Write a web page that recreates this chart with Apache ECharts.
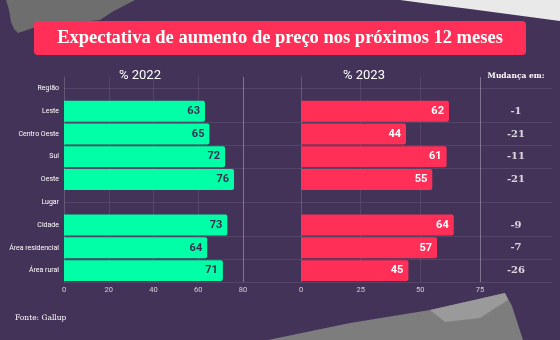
<!DOCTYPE html>
<html>
<head>
<meta charset="utf-8">
<script src="https://cdn.jsdelivr.net/npm/echarts@6/dist/echarts.min.js"></script>
<style>
  html, body { margin: 0; padding: 0; background: #433358; }
  #chart { width: 560px; height: 340px; }
</style>
</head>
<body>
<div id="chart"></div>
<script>
// Row labels (group headers "Região" and "Lugar" carry no values)
const categories = ['Região', 'Leste', 'Centro Oeste', 'Sul', 'Oeste', 'Lugar', 'Cidade', 'Área residencial', 'Área rural'];
const values2022 = [null, 63, 65, 72, 76, null, 73, 64, 71];
const values2023 = [null, 62, 44, 61, 55, null, 64, 57, 45];
const changes = [null, -1, -21, -11, -21, null, -9, -7, -26];
const ticks2022 = [0, 20, 40, 60, 80];
const ticks2023 = [0, 25, 50, 75];
const groupHeaders = ['Região', 'Lugar'];

const BG = '#433358';
const GREEN = '#00ffa6';
const RED = '#ff2f57';
const FAINT = 'rgba(255,255,255,0.09)';
const BRIGHT = 'rgba(255,255,255,0.32)';
const SLAB = '"DejaVu Serif", serif';
const TITLE_FONT = '"Liberation Serif", "DejaVu Serif", serif';
const SANS = 'Roboto, "Noto Sans", sans-serif';

const chart = echarts.init(document.getElementById('chart'), null, { renderer: 'canvas' });

const valueAxis = (ticks, gridIndex) => ({
  type: 'value',
  gridIndex,
  min: ticks[0],
  max: ticks[ticks.length - 1],
  interval: ticks[1] - ticks[0],
  axisLine: { show: false },
  axisTick: { show: false },
  axisLabel: { color: 'rgba(255,255,255,0.75)', fontSize: 7.5, fontFamily: SANS, margin: 4 },
  splitLine: {
    show: true,
    lineStyle: { color: ['transparent'].concat(ticks.slice(1, -1).map(() => FAINT), [BRIGHT]), width: 1 }
  }
});

const catAxis = (gridIndex, showLabels, showLine) => ({
  type: 'category',
  gridIndex,
  data: categories,
  inverse: true,
  axisTick: { show: false },
  axisLine: { show: showLine, lineStyle: { color: 'rgba(255,255,255,0.18)' } },
  axisLabel: {
    show: showLabels,
    color: '#ffffff',
    fontSize: 7,
    fontFamily: SANS,
    margin: 5
  },
  splitLine: { show: false }
});

const barSeries = (name, values, color, labelColor, xi) => ({
  name,
  type: 'bar',
  xAxisIndex: xi,
  yAxisIndex: xi,
  data: values,
  barCategoryGap: '8%',
  itemStyle: { color, borderRadius: [0, 2, 2, 0] },
  label: {
    show: true,
    position: 'insideRight',
    distance: 5,
    color: labelColor,
    fontFamily: SANS,
    fontWeight: 'bold',
    fontSize: 11
  },
  z: 3
});

const option = {
  backgroundColor: BG,
  animation: false,
  graphic: [
    // torn paper scraps
    { type: 'polygon', z: 0, shape: { points: [[6, 0], [135, 0], [112, 12], [100, 20], [60, 24], [36, 27], [18, 33], [14, 29], [11, 22], [9, 10]] }, style: { fill: '#6e6e6e' } },
    { type: 'polygon', z: 0, shape: { points: [[400, 0], [560, 0], [560, 21], [530, 17], [500, 13], [470, 9], [430, 4]] }, style: { fill: '#e9e9e9' } },
    { type: 'polygon', z: 0, shape: { points: [[268, 340], [350, 323], [430, 310], [505, 293], [512, 306], [523, 340]] }, style: { fill: '#7d7d7d' } },
    { type: 'polygon', z: 0, shape: { points: [[430, 310], [470, 301], [505, 293], [508, 300], [480, 318], [445, 322]] }, style: { fill: '#9a9a9a' } },
    // title banner
    { type: 'rect', z: 5, shape: { x: 34, y: 21, width: 492, height: 34, r: 4 }, style: { fill: RED } },
    { type: 'text', z: 6, x: 280, y: 38, style: { text: 'Expectativa de aumento de preço nos próximos 12 meses', fill: '#ffffff', font: 'bold 18.5px ' + TITLE_FONT, textAlign: 'center', textVerticalAlign: 'middle' } },
    // column headers
    { type: 'text', z: 6, x: 140, y: 76, style: { text: '% 2022', fill: '#ffffff', font: '13px ' + SANS, textAlign: 'center', textVerticalAlign: 'middle' } },
    { type: 'text', z: 6, x: 364, y: 76, style: { text: '% 2023', fill: '#ffffff', font: '13px ' + SANS, textAlign: 'center', textVerticalAlign: 'middle' } },
    { type: 'text', z: 6, x: 516, y: 76, style: { text: 'Mudança em:', fill: '#ffffff', font: 'bold 7.5px ' + SLAB, textAlign: 'center', textVerticalAlign: 'middle' } },
    // source
    { type: 'text', z: 6, x: 15, y: 318, style: { text: 'Fonte: Gallup', fill: '#ffffff', font: '7.5px ' + SLAB, textVerticalAlign: 'middle' } }
  ],
  grid: [
    { left: 64, right: 8, top: 77, height: 205 },   // row rules across the table
    { left: 64, width: 179, top: 77, height: 205 }, // 2022
    { left: 301, width: 179, top: 77, height: 205 }, // 2023
    { left: 480, width: 72, top: 77, height: 205 }   // change column
  ],
  xAxis: [
    { type: 'value', gridIndex: 0, min: 0, max: 1, show: false },
    valueAxis(ticks2022, 1),
    valueAxis(ticks2023, 2),
    { type: 'value', gridIndex: 3, min: 0, max: 1, show: false }
  ],
  yAxis: [
    Object.assign(catAxis(0, false, false), {
      splitLine: {
        show: true,
        interval: (index) => [2, 3, 4, 7, 8].includes(index),
        lineStyle: { color: FAINT }
      }
    }),
    catAxis(1, true, true),
    catAxis(2, false, true),
    Object.assign(catAxis(3, false, false), { show: false })
  ],
  series: [
    {
      type: 'scatter',
      xAxisIndex: 0,
      yAxisIndex: 0,
      symbolSize: 0,
      data: [],
      silent: true,
      markLine: {
        silent: true,
        symbol: 'none',
        label: { show: false },
        lineStyle: { color: FAINT, type: 'solid', width: 1 },
        data: groupHeaders.map((g) => ({ yAxis: g }))
      }
    },
    barSeries('% 2022', values2022, GREEN, '#3b2d52', 1),
    barSeries('% 2023', values2023, RED, '#ffffff', 2),
    {
      name: 'Mudança em:',
      type: 'scatter',
      xAxisIndex: 3,
      yAxisIndex: 3,
      symbolSize: 0,
      data: changes.map((c, i) => (c === null ? null : [0.5, categories[i], c])).filter(Boolean),
      label: {
        show: true,
        position: 'inside',
        formatter: (p) => String(p.value[2]),
        color: '#ffffff',
        fontFamily: SLAB,
        fontWeight: 'bold',
        fontSize: 10
      }
    }
  ]
};

chart.setOption(option);
</script>
</body>
</html>
